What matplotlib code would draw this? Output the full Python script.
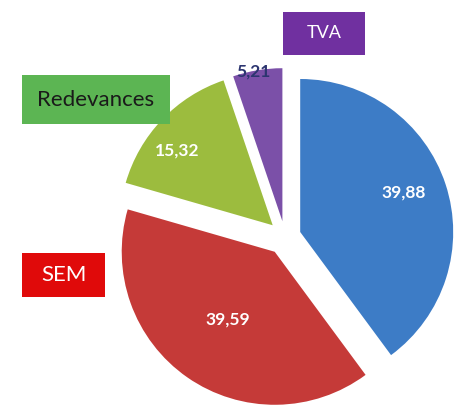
import matplotlib.pyplot as plt
from matplotlib.patches import Rectangle

# data
categories = ['Impôts', 'SEM', 'Redevances', 'TVA']
values = [39.88, 39.59, 15.32, 5.21]
value_labels = ['39,88', '39,59', '15,32', '5,21']
colors = ['#3d7cc6', '#c53a38', '#9cbc3e', '#7b50a8']
label_colors = ['white', 'white', 'white', '#2c3570']
explode_px = [16, 18, 17, 16]

plt.rcParams['font.family'] = ['Lato', 'DejaVu Sans']

W, H = 454, 408
fig = plt.figure(figsize=(W / 100, H / 100), dpi=100)
ax = fig.add_axes([0, 0, 1, 1])

# pie drawn in pixel-like data units (explode is in data units here)
ax.pie(values, colors=colors, startangle=90, counterclock=False,
       explode=explode_px, center=(285, H - 237), radius=153,
       wedgeprops=dict(linewidth=0), frame=True)
ax.set_xlim(0, W)
ax.set_ylim(0, H)
ax.set_aspect('equal')
ax.axis('off')

# value labels inside slices
label_pos = [(404, 193), (228, 320), (177, 151), (253, 72)]
for (x, y), txt, c in zip(label_pos, value_labels, label_colors):
    ax.text(x, H - y, txt, color=c, fontsize=12.5, fontweight='bold',
            ha='center', va='center')

# category boxes
boxes = [
    ('TVA', (283, 12, 82, 43), '#7030a0', 'white', 13),
    ('Redevances', (22, 75, 148, 49), '#5cb553', '#1a1a1a', 16),
    ('SEM', (22, 253, 83, 44), '#e00a0a', 'white', 16),
]
for name, (x, y, w, h), fc, tc, fs in boxes:
    ax.add_patch(Rectangle((x, H - y - h), w, h, facecolor=fc, edgecolor='none'))
    ax.text(x + w / 2, H - y - h / 2, name, color=tc, fontsize=fs,
            ha='center', va='center')

fig.savefig('out.png', dpi=100)
